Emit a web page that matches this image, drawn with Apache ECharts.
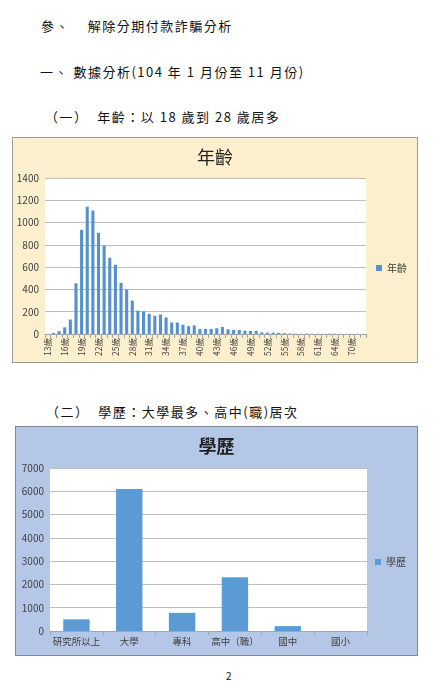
<!DOCTYPE html>
<html>
<head>
<meta charset="utf-8">
<script src="https://cdn.jsdelivr.net/npm/echarts@6/dist/echarts.min.js"></script>
<style>
  html, body { margin:0; padding:0; background:#fff; }
  body { width:448px; height:700px; position:relative; overflow:hidden;
         font-family:"Noto Sans CJK TC","Noto Sans CJK SC",sans-serif; color:#111; }
  .t { position:absolute; white-space:pre; font-size:13px; line-height:16px; letter-spacing:1.5px; }
  #c1 { position:absolute; left:12px; top:137px; width:406px; height:226px;
        background:#FCEFCD; border:1px solid #9c9c9c; box-sizing:border-box; }
  #c2 { position:absolute; left:15px; top:426px; width:403px; height:230px;
        background:#B4C7E7; border:1px solid #7f8a99; box-sizing:border-box; }
</style>
</head>
<body>
<div class="t" style="left:41px; top:18px;">參、    解除分期付款詐騙分析</div>
<div class="t" style="left:40px; top:64px;">一、 數據分析(104 年 1 月份至 11 月份)</div>
<div class="t" style="left:45px; top:109px;">（一）  年齡：以 18 歲到 28 歲居多</div>
<div class="t" style="left:46px; top:404px;">（二）  學歷：大學最多、高中(職)居次</div>
<div class="t" style="left:226px; top:668px; font-size:10px; letter-spacing:0;">2</div>
<div id="c1"></div>
<div id="c2"></div>
<script>
const ageCategories = ['13歲','14歲','15歲','16歲','17歲','18歲','19歲','20歲','21歲','22歲','23歲','24歲','25歲','26歲','27歲','28歲','29歲','30歲','31歲','32歲','33歲','34歲','35歲','36歲','37歲','38歲','39歲','40歲','41歲','42歲','43歲','44歲','45歲','46歲','47歲','48歲','49歲','50歲','51歲','52歲','53歲','54歲','55歲','56歲','57歲','58歲','59歲','60歲','61歲','62歲','63歲','64歲','65歲','67歲','70歲','72歲','75歲'];
const ageValues = [2,10,25,60,130,455,935,1143,1108,908,793,684,621,459,399,300,210,203,181,164,175,148,104,103,83,70,77,46,46,46,52,63,42,38,36,30,27,28,15,12,12,10,8,4,3,2,3,2,2,1,3,2,1,1,1,1,1];
const eduCategories = ['研究所以上','大學','專科','高中（職）','國中','國小'];
const eduValues = [500,6100,780,2310,210,3];
const ageTicks = [0,200,400,600,800,1000,1200,1400];
const eduTicks = [0,1000,2000,3000,4000,5000,6000,7000];

const FONT = '"Noto Sans CJK TC","Noto Sans CJK SC",sans-serif';
const txt = '#404040';
const plain = v => String(v);

const c1 = echarts.init(document.getElementById('c1'), null, {renderer:'canvas'});
c1.setOption({
  animation:false,
  textStyle:{fontFamily:FONT},
  title:{text:'年齡', left:'center', top:5, textStyle:{fontSize:18, fontWeight:'normal', color:'#222', fontFamily:FONT}},
  legend:{data:['年齡'], left:358, top:120, orient:'vertical', icon:'rect', itemWidth:6, itemHeight:6, itemGap:4,
          textStyle:{fontSize:10, color:txt, fontFamily:FONT}},
  grid:{left:32, right:51, top:40, bottom:28, show:true, backgroundColor:'#ffffff', borderWidth:0},
  xAxis:{type:'category', data:ageCategories,
    axisLine:{lineStyle:{color:'#a6a6a6'}},
    axisTick:{show:true, interval:0, length:4, lineStyle:{color:'#a6a6a6'}},
    axisLabel:{interval:2, rotate:90, fontSize:8.5, color:txt, margin:4, fontFamily:FONT}},
  yAxis:{type:'value', min:ageTicks[0], max:ageTicks[ageTicks.length-1], interval:200,
    axisLine:{show:false}, axisTick:{show:false},
    axisLabel:{fontSize:10, color:txt, margin:6, formatter:plain},
    splitLine:{lineStyle:{color:'#bfbfbf'}}},
  series:[{name:'年齡', type:'bar', data:ageValues, barWidth:'55%', itemStyle:{color:'#5590CF'}}]
});

const c2 = echarts.init(document.getElementById('c2'), null, {renderer:'canvas'});
c2.setOption({
  animation:false,
  textStyle:{fontFamily:FONT},
  title:{text:'學歷', left:'center', top:5, textStyle:{fontSize:18, fontWeight:'bold', color:'#222', fontFamily:FONT}},
  legend:{data:['學歷'], left:354, top:125, orient:'vertical', icon:'rect', itemWidth:6, itemHeight:6, itemGap:4,
          textStyle:{fontSize:10, color:txt, fontFamily:FONT}},
  grid:{left:34, right:50, top:41, bottom:24, show:true, backgroundColor:'#ffffff', borderWidth:0},
  xAxis:{type:'category', data:eduCategories,
    axisLine:{lineStyle:{color:'#a6a6a6'}},
    axisTick:{show:true, interval:0, length:4, lineStyle:{color:'#a6a6a6'}},
    axisLabel:{interval:0, fontSize:9.5, color:txt, margin:6, fontFamily:FONT}},
  yAxis:{type:'value', min:eduTicks[0], max:eduTicks[eduTicks.length-1], interval:1000,
    axisLine:{show:false}, axisTick:{show:false},
    axisLabel:{fontSize:10, color:txt, margin:6, formatter:plain},
    splitLine:{lineStyle:{color:'#bfbfbf'}}},
  series:[{name:'學歷', type:'bar', data:eduValues, barWidth:'50%', itemStyle:{color:'#5B9BD5'}}]
});
</script>
</body>
</html>
